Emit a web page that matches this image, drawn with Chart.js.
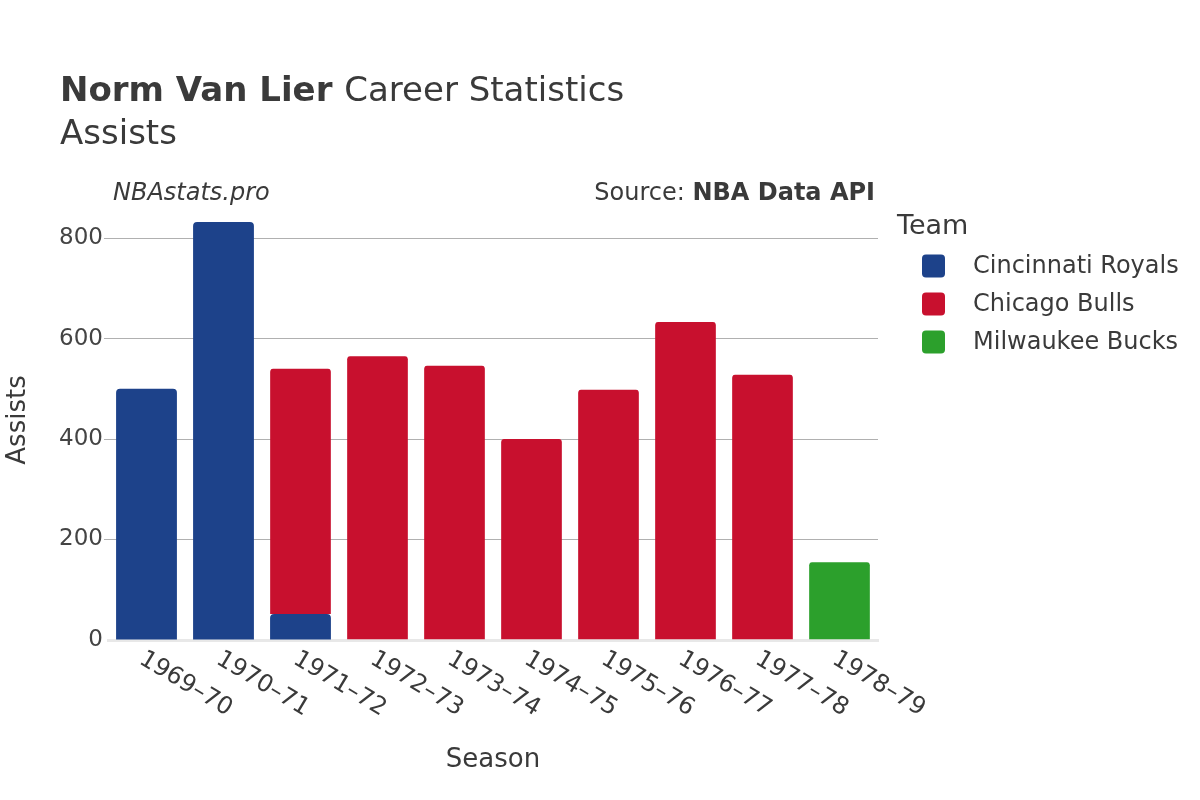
<!DOCTYPE html>
<html>
<head>
<meta charset="utf-8">
<script src="https://cdn.jsdelivr.net/npm/chart.js@4"></script>
<style>
  html, body { margin: 0; padding: 0; background: #fff; }
  #wrap { width: 1200px; height: 800px; }
</style>
</head>
<body>
<div id="wrap"><canvas id="chart" width="1200" height="800"></canvas></div>
<script>
const seasons = ['1969–70', '1970–71', '1971–72', '1972–73', '1973–74', '1974–75', '1975–76', '1976–77', '1977–78', '1978–79'];
const royals = [500, 832, 52, null, null, null, null, null, null, null];
const bulls = [null, null, 490, 567, 548, 402, 500, 635, 530, null];
const bucks = [null, null, null, null, null, null, null, null, null, 157];
const teams = ['Cincinnati Royals', 'Chicago Bulls', 'Milwaukee Bucks'];
const teamColors = ['#1d428a', '#c8102e', '#2ca02c'];
const yTicks = [0, 200, 400, 600, 800];

const FONT = '"DejaVu Sans", sans-serif';
const TEXT = '#3a3a3a';

// titles, rotated season labels, axis titles and legend
const decorations = {
  id: 'decorations',
  afterDraw(chart) {
    const ctx = chart.ctx;
    const x = chart.scales.x;
    ctx.save();
    ctx.fillStyle = TEXT;
    ctx.textBaseline = 'alphabetic';

    ctx.textAlign = 'left';
    ctx.font = 'bold 34px ' + FONT;
    ctx.fillText('Norm Van Lier', 60, 101);
    const w = ctx.measureText('Norm Van Lier ').width;
    ctx.font = '34px ' + FONT;
    ctx.fillText('Career Statistics', 60 + w, 101);
    ctx.fillText('Assists', 60, 144);

    ctx.font = 'italic 24px ' + FONT;
    ctx.fillText('NBAstats.pro', 113, 200);
    ctx.textAlign = 'right';
    ctx.font = 'bold 24px ' + FONT;
    ctx.fillText('NBA Data API', 875, 200);
    const bw = ctx.measureText('NBA Data API').width;
    ctx.font = '24px ' + FONT;
    ctx.fillText('Source: ', 875 - bw, 200);

    // season labels
    ctx.font = '24px ' + FONT;
    ctx.textAlign = 'left';
    ctx.textBaseline = 'top';
    seasons.forEach((s, i) => {
      const px = x.getPixelForValue(i);
      ctx.save();
      ctx.translate(px + 1, 647);
      ctx.rotate(31 * Math.PI / 180);
      ctx.fillText(s, 0, 0);
      ctx.restore();
    });

    // axis titles
    ctx.textAlign = 'center';
    ctx.textBaseline = 'middle';
    ctx.font = '26px ' + FONT;
    ctx.fillText('Season', 493, 760);
    ctx.save();
    ctx.translate(18, 420);
    ctx.rotate(-Math.PI / 2);
    ctx.fillText('Assists', 0, 0);
    ctx.restore();

    // legend
    ctx.textAlign = 'left';
    ctx.font = '27px ' + FONT;
    ctx.fillText('Team', 897, 227);
    ctx.font = '24px ' + FONT;
    chart.data.datasets.forEach((ds, i) => {
      const cy = 266 + i * 38;
      ctx.fillStyle = ds.backgroundColor;
      ctx.beginPath();
      ctx.roundRect(922, cy - 11.5, 23, 23, 4);
      ctx.fill();
      ctx.fillStyle = TEXT;
      ctx.fillText(ds.label, 973, cy + 1);
    });
    ctx.restore();
  }
};

const datasets = [royals, bulls, bucks].map((vals, i) => ({
  label: teams[i],
  data: vals,
  backgroundColor: teamColors[i],
  borderColor: '#ffffff',
  borderWidth: { top: 1, left: 0, right: 0, bottom: 0 },
  borderSkipped: 'start',
  borderRadius: { topLeft: 4, topRight: 4, bottomLeft: 0, bottomRight: 0 },
  barPercentage: 0.79,
  categoryPercentage: 1.0
}));
datasets[0].borderWidth = 0;

new Chart(document.getElementById('chart'), {
  type: 'bar',
  data: { labels: seasons, datasets: datasets },
  plugins: [decorations],
  options: {
    responsive: false,
    animation: false,
    layout: { padding: { left: 0, top: 213, right: 322, bottom: 160 } },
    plugins: { legend: { display: false }, tooltip: { enabled: false } },
    scales: {
      x: {
        stacked: true,
        ticks: { display: false },
        grid: { display: false },
        border: { color: '#e8e8e8', width: 3 },
        afterFit: s => { s.height = 0; }
      },
      y: {
        stacked: true,
        min: 0,
        max: 850,
        afterBuildTicks: s => { s.ticks = yTicks.map(v => ({ value: v })); },
        afterFit: s => { s.width = 108; },
        ticks: { color: '#444', font: { family: FONT, size: 23 }, padding: 1 },
        grid: {
          color: ctx => ctx.tick && ctx.tick.value === 0 ? 'rgba(0,0,0,0)' : '#b0b0b0',
          tickLength: 4,
          lineWidth: 1
        },
        border: { display: false }
      }
    }
  }
});
</script>
</body>
</html>
